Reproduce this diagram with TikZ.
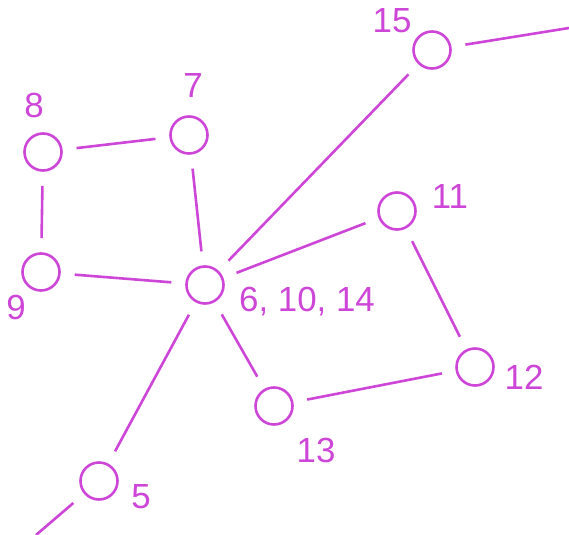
\documentclass[tikz,border=0pt]{standalone}
\usepackage{fontspec}
\setmainfont{Liberation Sans}
\usepackage{tikz}
\usetikzlibrary{positioning}
\definecolor{vertcol}{RGB}{205,70,215}

\begin{document}
\begin{tikzpicture}[x=1bp, y=-1bp,
  vert/.style={circle, draw=vertcol, line width=2.6bp, minimum size=37bp, inner sep=0pt},
  edge/.style={draw=vertcol, line width=2.6bp, shorten <=14bp, shorten >=14bp},
  lbl/.style={text=vertcol, font=\fontsize{35}{40}\selectfont, inner sep=0pt}]
\useasboundingbox (0,0) rectangle (569,535);

\node [vert] (n15) at (432,50) {};
\node [vert] (n8) at (43,152) {};
\node [vert] (n7) at (189,135) {};
\node [vert] (n9) at (41,272) {};
\node [vert] (n6) at (205,285) {};
\node [vert] (n11) at (397,211) {};
\node [vert] (n12) at (475,367) {};
\node [vert] (n13) at (274,406) {};
\node [vert] (n5) at (99,481) {};
\coordinate (east) at (569,28);
\coordinate (south) at (36,535);

\draw [edge, shorten >=0pt] (n15) -- (east);
\draw [edge] (n15) -- (n6);
\draw [edge] (n8) -- (n7);
\draw [edge] (n8) -- (n9);
\draw [edge] (n9) -- (n6);
\draw [edge] (n7) -- (n6);
\draw [edge] (n6) -- (n11);
\draw [edge] (n11) -- (n12);
\draw [edge] (n12) -- (n13);
\draw [edge] (n13) -- (n6);
\draw [edge] (n6) -- (n5);
\draw [edge, shorten >=0pt] (n5) -- (south);

\node [lbl] (l15) at (392,21) {15};
\node [lbl] (l8) at (34,105) {8};
\node [lbl] (l7) at (193,86) {7};
\node [lbl] (l9) at (16,307) {9};
\node [lbl] (l6) at (307,302) {6, 10, 14};
\node [lbl] (l11) at (450,197) {11};
\node [lbl] (l12) at (524,377) {12};
\node [lbl] (l13) at (316,450) {13};
\node [lbl] (l5) at (141,497) {5};

\end{tikzpicture}
\end{document}
